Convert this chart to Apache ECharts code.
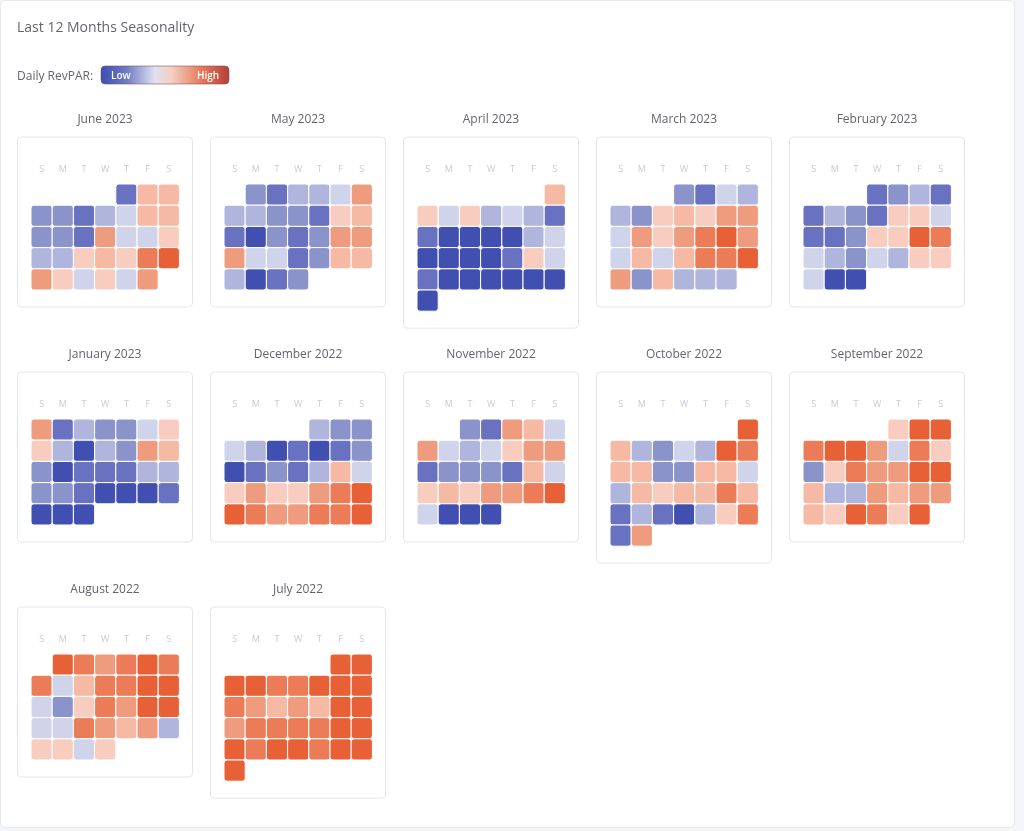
<!DOCTYPE html>
<html>
<head>
<meta charset="utf-8">
<script src="https://cdn.jsdelivr.net/npm/echarts@6/dist/echarts.min.js"></script>
<style>
html,body{margin:0;padding:0;background:#f4f5f9;}
#wrap{position:absolute;left:0;top:0;width:1015px;height:828px;background:#fff;border:1px solid #e7e9f0;border-radius:6px;box-sizing:border-box;}
#chart{position:absolute;left:0;top:0;width:1024px;height:831px;}
</style>
</head>
<body>
<div id="wrap"></div>
<div id="chart"></div>
<script>
// Month keys and titles, in display order
const monthKeys = ['2023-06','2023-05','2023-04','2023-03','2023-02','2023-01','2022-12','2022-11','2022-10','2022-09','2022-08','2022-07'];
const monthTitles = ['June 2023','May 2023','April 2023','March 2023','February 2023','January 2023','December 2022','November 2022','October 2022','September 2022','August 2022','July 2022'];
const dayNames = ['S','M','T','W','T','F','S'];
// Daily RevPAR level (1 = low ... 10 = high), day 1..N of each month
const jun2023 = [2,7,7, 3,3,2,4,5,7,7, 3,3,2,8,5,5,6, 4,4,6,7,6,9,10, 8,6,5,6,5,8];
const may2023 = [3,2,4,4,5,8, 4,4,3,3,2,6,7, 2,1,3,2,3,8,8, 8,5,5,2,3,7,7, 4,1,2,3];
const apr2023 = [7, 6,5,6,4,5,4,2, 2,1,1,1,1,4,5, 1,1,1,1,2,6,5, 2,1,1,1,1,1,1, 1];
const mar2023 = [3,2,5,4, 4,3,6,7,6,8,8, 5,8,6,8,9,10,8, 5,7,5,7,9,9,10, 8,3,7,4,4,4];
const feb2023 = [2,3,4,2, 2,4,3,2,6,6,5, 2,2,3,6,6,10,9, 5,4,3,5,4,6,6, 5,1,1];
const jan2023 = [8,2,4,3,3,5,6, 6,4,1,4,3,8,7, 3,1,2,2,2,4,4, 3,3,2,1,1,1,2, 1,1,1];
const dec2022 = [4,3,3, 5,4,1,2,1,2,3, 1,2,3,2,4,7,5, 6,8,6,6,8,9,10, 10,9,8,8,9,9,10];
const nov2022 = [3,2,8,7,5, 8,5,4,5,6,8,8, 2,3,3,3,2,7,5, 6,7,6,8,8,9,10, 5,1,1,1];
const oct2022 = [10, 7,4,3,5,4,10,9, 7,7,3,3,7,7,5, 4,7,6,7,7,9,7, 2,4,2,1,4,6,9, 2,8];
const sep2022 = [6,10,10, 9,10,10,8,5,9,6, 3,6,9,8,8,10,10, 7,4,4,8,7,8,8, 7,6,10,9,6,10];
const aug2022 = [10,9,8,9,10,9, 9,5,7,9,9,10,10, 5,3,6,9,8,10,10, 5,5,9,8,7,8,4, 6,6,5,6];
const jul2022 = [10,10, 10,10,9,9,10,10,10, 9,8,7,8,7,10,10, 8,9,9,9,9,10,10, 10,9,10,10,9,10,10, 10];
const monthValues = [jun2023,may2023,apr2023,mar2023,feb2023,jan2023,dec2022,nov2022,oct2022,sep2022,aug2022,jul2022];
const levelColors = ['#4150b0','#6872c0','#8b93cb','#b0b5dd','#d0d4eb','#f8cdbf','#f6b9a4','#ee9c7d','#ec7c58','#e86036'];

const chart = echarts.init(document.getElementById('chart'), null, {renderer:'canvas'});
const FONT = "'Open Sans', 'Noto Sans', sans-serif";
const cell = 21.2;
const calendars = [], series = [], titles = [], graphics = [];

function pad(n){return n<10?'0'+n:''+n;}

monthKeys.forEach((key, i) => {
  const col = i % 5, row = Math.floor(i / 5);
  const cx = 17.5 + col * 193;
  const cy = 137 + row * 235;
  const [y, m] = key.split('-').map(Number);
  const firstDow = new Date(y, m - 1, 1).getDay();
  const vals = monthValues[i];
  const weeks = Math.ceil((firstDow + vals.length) / 7);
  const h = 47 + weeks * cell + 17;
  graphics.push({type:'rect', z:0, shape:{x:cx, y:cy, width:175, height:h, r:4},
    style:{fill:'#fff', stroke:'#e4e6ee', lineWidth:1}});
  titles.push({text:monthTitles[i], left:cx + 87.5, top:cy - 23, padding:0, textAlign:'center',
    textStyle:{fontFamily:FONT, fontSize:12, fontWeight:'normal', color:'#62656c'}});
  calendars.push({
    orient:'vertical', range:key, left:cx + 13.5, top:cy + 47, cellSize:[cell, cell],
    splitLine:{show:false},
    itemStyle:{color:'transparent', borderWidth:0},
    dayLabel:{firstDay:0, nameMap:dayNames, margin:10, color:'#c9cbd8', fontSize:9, fontFamily:FONT},
    monthLabel:{show:false}, yearLabel:{show:false}
  });
  series.push({
    type:'heatmap', coordinateSystem:'calendar', calendarIndex:i,
    data: vals.map((v, d) => [key + '-' + pad(d + 1), v]),
    itemStyle:{borderColor:'#fff', borderWidth:1, borderRadius:3},
    emphasis:{disabled:true}
  });
});

// Header and legend
titles.push({text:'Last 12 Months Seasonality', left:17, top:21, padding:0,
  textStyle:{fontFamily:FONT, fontSize:14, fontWeight:'normal', color:'#62656c'}});
graphics.push({type:'text', left:17, top:71, style:{text:'Daily RevPAR:', font:"12px " + FONT, fill:'#62656c'}});
graphics.push({type:'rect', shape:{x:101, y:66, width:128, height:18, r:4},
  style:{stroke:'#7a5560', lineWidth:0.6, fill:new echarts.graphic.LinearGradient(0,0,1,0,[
    {offset:0,color:'#3d4db3'},{offset:0.2,color:'#6f79c4'},{offset:0.42,color:'#dfe1f1'},
    {offset:0.55,color:'#f4cfc1'},{offset:0.78,color:'#e77a5c'},{offset:1,color:'#b43f38'}])}});
graphics.push({type:'text', x:111, y:71, style:{text:'Low', font:"600 10px " + FONT, fill:'#fff'}});
graphics.push({type:'text', x:197, y:71, style:{text:'High', font:"600 10px " + FONT, fill:'#fff'}});

chart.setOption({
  animation:false,
  title: titles,
  visualMap:{show:false, type:'continuous', min:1, max:10, inRange:{color:levelColors}, seriesIndex:series.map((s,i)=>i)},
  calendar: calendars,
  series: series,
  graphic: graphics
});
</script>
</body>
</html>
